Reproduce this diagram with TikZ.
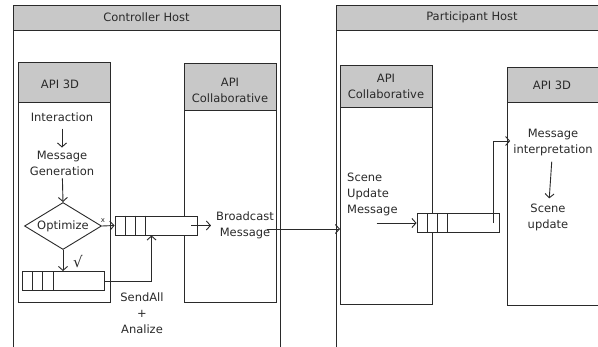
\documentclass[tikz,border=0pt]{standalone}
\usepackage{fontspec}
\setmainfont{DejaVu Sans}
\usetikzlibrary{arrows.meta, positioning, calc, shapes.geometric}
\definecolor{hdrgray}{HTML}{C8C8C8}
\definecolor{lnblack}{HTML}{2A2A2A}

\begin{document}
\begin{tikzpicture}[x=1pt, y=-1pt,
  txt/.style={font=\fontsize{11.5}{16}\selectfont, align=center, inner sep=1pt, text=lnblack},
  arr/.style={-{Straight Barb[length=4pt,width=9pt]}, draw=lnblack, line width=0.9pt},
  hdr/.style={draw=lnblack, fill=hdrgray, line width=0.9pt},
  body/.style={draw=lnblack, fill=white, line width=0.9pt},
  queue/.style={draw=lnblack, fill=white, line width=0.9pt, minimum width=82pt, minimum height=19pt, inner sep=0pt},
  optbox/.style={diamond, draw=lnblack, fill=white, line width=0.9pt, minimum width=77pt, minimum height=47pt, inner sep=0pt, aspect=1.64}]
  \useasboundingbox (0,0) rectangle (598,346);
  \clip (0,0) rectangle (598,346);
  \fill[white] (0,0) rectangle (598,346);

  % hosts
  \draw[body] (13,30) rectangle (280,360);
  \draw[hdr] (13,5) rectangle (280,30);
  \node[txt] (ctrlhost) at (146.5,17.5) {Controller Host};
  \draw[body] (336,30) rectangle (610,360);
  \draw[hdr] (336,5) rectangle (610,30);
  \node[txt] (parthost) at (472,17.5) {Participant Host};

  % api boxes
  \draw[body] (18,102) rectangle (110,302);
  \draw[hdr] (18,62) rectangle (110,102);
  \node[txt] (capi3d) at (60,84) {API 3D};
  \draw[body] (184,110) rectangle (276,302);
  \draw[hdr] (184,63) rectangle (276,110);
  \node[txt] (ccollab) at (230,90) {API\\Collaborative};
  \draw[body] (340,107) rectangle (432,304);
  \draw[hdr] (340,65) rectangle (432,107);
  \node[txt] (pcollab) at (386,86) {API\\Collaborative};
  \draw[body] (507,102) rectangle (610,305);
  \draw[hdr] (507,67) rectangle (610,102);
  \node[txt] (papi3d) at (552,85) {API 3D};
  \coordinate (pcolin) at (340,229);

  % controller side
  \node[txt] (inter) at (62,117) {Interaction};
  \node[txt] (msggen) at (62,163) {Message\\Generation};
  \node[optbox] (opt) at (63,226) {};
  \node[txt, inner sep=0pt] (optlbl) at (opt.center) {Optimize};
  \node[queue] (q1) at (63.5,281) {};
  \node[queue] (q2) at (156,225.5) {};
  \node[txt, font=\fontsize{15}{15}\selectfont] (chkyes) at (78,262) {√};
  \node[txt, font=\fontsize{7}{7}\selectfont] (chkno) at (103,221) {x};
  \node[txt] (bcast) at (245,225) {Broadcast\\Message};
  \node[txt] (sendall) at (142,313) {SendAll\\+\\Analize};

  % participant side
  \node[txt, align=left, anchor=west] (scnmsg) at (346,194) {Scene\\Update\\Message};
  \node[queue] (q3) at (458,223) {};
  \node[txt] (msgint) at (553,143) {Message\\interpretation};
  \node[txt] (scnupd) at (548,217) {Scene\\update};

  % queue cells
  \foreach \q in {q1,q2,q3}{
    \foreach \d in {10.5,20.5,31}{
      \draw[lnblack, line width=0.9pt] ($(\q.north west)+(\d,0)$) -- ($(\q.south west)+(\d,0)$);
    }
  }

  % connectors
  \draw[arr, shorten <=6pt, shorten >=2pt] (inter) -- (msggen);
  \draw[arr, shorten <=2pt] (msggen) -- (opt.north);
  \draw[arr] (opt.east) -- (q2.west);
  \draw[arr] (opt.south) -- (q1.north -| opt.south);
  \draw[arr] (q1.east) -| ($(q2.south west)+(37,0)$);
  \draw[arr, shorten >=4pt] ($(q2.east)+(-6,0)$) -- (bcast.west |- q2.east);
  \draw[arr] ($(pcolin -| bcast.east)+(-8,0)$) -- (pcolin);
  \draw[arr] ($(q3.west)+(-40,0)$) -- (q3.west);
  \draw[arr, shorten >=2pt] ($(q3.east)+(-6,0)$) |- ($(msgint.west)+(0,-2)$);
  \draw[arr, shorten <=4pt, shorten >=4pt] (msgint) -- (scnupd);
\end{tikzpicture}
\end{document}
